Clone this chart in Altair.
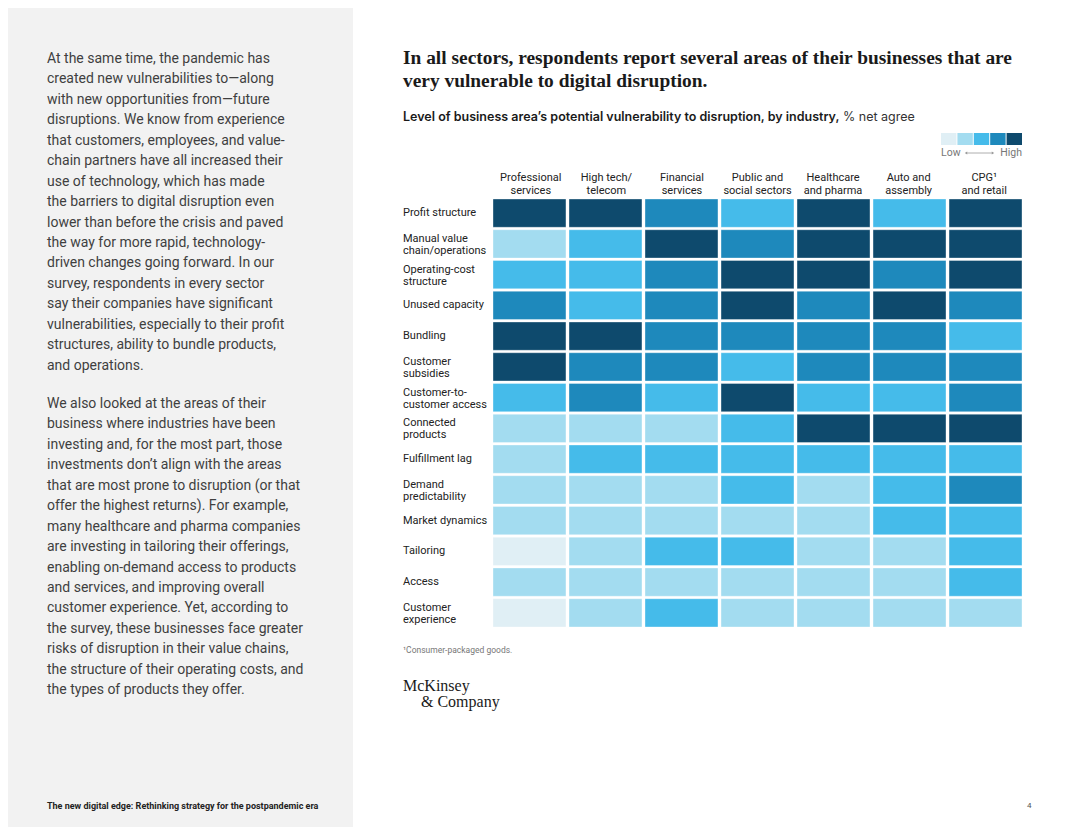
import altair as alt
import pandas as pd

# ---------------- data ----------------
industries = ["Professional services", "High tech/telecom", "Financial services",
              "Public and social sectors", "Healthcare and pharma", "Auto and assembly",
              "CPG and retail"]
industry_labels = [["Professional", "services"], ["High tech/", "telecom"], ["Financial", "services"],
                   ["Public and", "social sectors"], ["Healthcare", "and pharma"], ["Auto and", "assembly"],
                   ["CPG\u00b9", "and retail"]]

areas = ["Profit structure", "Manual value chain/operations", "Operating-cost structure",
         "Unused capacity", "Bundling", "Customer subsidies", "Customer-to-customer access",
         "Connected products", "Fulfillment lag", "Demand predictability", "Market dynamics",
         "Tailoring", "Access", "Customer experience"]
area_labels = [["Profit structure"], ["Manual value", "chain/operations"], ["Operating-cost", "structure"],
               ["Unused capacity"], ["Bundling"], ["Customer", "subsidies"], ["Customer-to-", "customer access"],
               ["Connected", "products"], ["Fulfillment lag"], ["Demand", "predictability"], ["Market dynamics"],
               ["Tailoring"], ["Access"], ["Customer", "experience"]]

# vulnerability level (1 = low ... 5 = high), one list per industry, in the order of `areas`
professional_services = [5, 2, 3, 4, 5, 5, 3, 2, 2, 2, 2, 1, 2, 1]
high_tech_telecom     = [5, 3, 3, 3, 5, 4, 4, 2, 3, 2, 2, 2, 2, 2]
financial_services    = [4, 5, 4, 4, 4, 4, 3, 2, 3, 2, 2, 3, 2, 3]
public_social         = [3, 4, 5, 5, 4, 3, 5, 3, 3, 3, 2, 3, 2, 2]
healthcare_pharma     = [5, 5, 5, 4, 4, 4, 3, 5, 3, 2, 2, 2, 2, 2]
auto_assembly         = [3, 5, 4, 5, 4, 4, 3, 5, 3, 3, 3, 2, 2, 2]
cpg_retail            = [5, 5, 5, 4, 3, 4, 4, 5, 3, 4, 3, 3, 3, 2]

levels = [1, 2, 3, 4, 5]
level_colors = ["#e0eff5", "#a3dcf0", "#45bbea", "#1e89bc", "#0e4a6d"]

paragraph1 = [
    "At the same time, the pandemic has",
    "created new vulnerabilities to\u2014along",
    "with new opportunities from\u2014future",
    "disruptions. We know from experience",
    "that customers, employees, and value-",
    "chain partners have all increased their",
    "use of technology, which has made",
    "the barriers to digital disruption even",
    "lower than before the crisis and paved",
    "the way for more rapid, technology-",
    "driven changes going forward. In our",
    "survey, respondents in every sector",
    "say their companies have significant",
    "vulnerabilities, especially to their profit",
    "structures, ability to bundle products,",
    "and operations.",
]
paragraph2 = [
    "We also looked at the areas of their",
    "business where industries have been",
    "investing and, for the most part, those",
    "investments don\u2019t align with the areas",
    "that are most prone to disruption (or that",
    "offer the highest returns). For example,",
    "many healthcare and pharma companies",
    "are investing in tailoring their offerings,",
    "enabling on-demand access to products",
    "and services, and improving overall",
    "customer experience. Yet, according to",
    "the survey, these businesses face greater",
    "risks of disruption in their value chains,",
    "the structure of their operating costs, and",
    "the types of products they offer.",
]
title_lines = ["In all sectors, respondents report several areas of their businesses that are",
               "very vulnerable to digital disruption."]
subtitle_bold = "Level of business area\u2019s potential vulnerability to disruption, by industry,"
subtitle_regular = "% net agree"
footnote = "\u00b9Consumer-packaged goods."
footer = "The new digital edge: Rethinking strategy for the postpandemic era"
page_number = "4"

# ---------------- tables ----------------
series = [professional_services, high_tech_telecom, financial_services, public_social,
          healthcare_pharma, auto_assembly, cpg_retail]
rows = []
for ind, vals in zip(industries, series):
    for area, v in zip(areas, vals):
        rows.append({"industry": ind, "area": area, "level": v})
cells = pd.DataFrame(rows)
col_df = pd.DataFrame({"industry": industries, "label": industry_labels})
row_df = pd.DataFrame({"area": areas, "label": area_labels,
                       "nlines": [len(l) for l in area_labels]})
legend_df = pd.DataFrame({"level": levels})
one = pd.DataFrame({"a": [0]})

FONT = "Roboto"
SERIF = "Liberation Serif"

xscale = alt.Scale(domain=industries, range=[485, 1014], paddingInner=0.04, paddingOuter=0)
yscale = alt.Scale(domain=areas, range=[191, 619], paddingInner=0.08, paddingOuter=0)
cscale = alt.Scale(domain=levels, range=level_colors)

panel = alt.Chart(one).mark_rect(color="#f2f2f2").encode(
    x=alt.value(0), x2=alt.value(345), y=alt.value(0), y2=alt.value(830))

para1 = alt.Chart(one).mark_text(text=paragraph1, font=FONT, fontSize=14, lineHeight=20.45,
                                 align="left", baseline="alphabetic", color="#3f3f3f").encode(
    x=alt.value(39), y=alt.value(55))
para2 = alt.Chart(one).mark_text(text=paragraph2, font=FONT, fontSize=14, lineHeight=20.45,
                                 align="left", baseline="alphabetic", color="#3f3f3f").encode(
    x=alt.value(39), y=alt.value(400))

title = alt.Chart(one).mark_text(text=title_lines, font=SERIF, fontSize=19.4, fontWeight="bold",
                                 lineHeight=23, align="left", baseline="alphabetic", color="#1a1a1a").encode(
    x=alt.value(395), y=alt.value(56))
sub1 = alt.Chart(one).mark_text(text=subtitle_bold, font="Inter", fontSize=12.5, fontWeight=600,
                                align="left", baseline="middle", color="#1a1a1a").encode(
    x=alt.value(395), y=alt.value(109))
sub2 = alt.Chart(one).mark_text(text=subtitle_regular, font="Inter", fontSize=12.5,
                                align="left", baseline="middle", color="#333333").encode(
    x=alt.value(835), y=alt.value(109))

heat = alt.Chart(cells).mark_rect(stroke="#ffffff", strokeOpacity=0.35, strokeWidth=1).encode(
    x=alt.X("industry:N", scale=xscale, axis=None),
    y=alt.Y("area:N", scale=yscale, axis=None),
    color=alt.Color("level:O", scale=cscale, legend=None),
)
col_labels = alt.Chart(col_df).mark_text(font=FONT, fontSize=11, lineHeight=13, align="center",
                                         baseline="middle", color="#222222").encode(
    x=alt.X("industry:N", scale=xscale, axis=None),
    y=alt.value(170),
    text="label",
)
row_labels_1 = alt.Chart(row_df).transform_filter("datum.nlines == 1").mark_text(
    font=FONT, fontSize=11, lineHeight=12, align="left", baseline="middle", color="#222222").encode(
    x=alt.value(395),
    y=alt.Y("area:N", scale=yscale, axis=None),
    text="label",
)
row_labels_2 = alt.Chart(row_df).transform_filter("datum.nlines == 2").mark_text(
    font=FONT, fontSize=11, lineHeight=12, dy=-5, align="left", baseline="middle", color="#222222").encode(
    x=alt.value(395),
    y=alt.Y("area:N", scale=yscale, axis=None),
    text="label",
)

legend_rects = alt.Chart(legend_df).mark_rect().encode(
    x=alt.X("level:O", scale=alt.Scale(domain=levels, range=[933, 1014], paddingInner=0.06, paddingOuter=0), axis=None),
    y=alt.value(125), y2=alt.value(137),
    color=alt.Color("level:O", scale=cscale, legend=None),
)
low_txt = alt.Chart(one).mark_text(text="Low", font=FONT, fontSize=10.5, align="left",
                                   baseline="middle", color="#777777").encode(x=alt.value(933), y=alt.value(145))
high_txt = alt.Chart(one).mark_text(text="High", font=FONT, fontSize=10.5, align="right",
                                    baseline="middle", color="#777777").encode(x=alt.value(1014), y=alt.value(145))
arrow_line = alt.Chart(one).mark_rule(color="#9a9a9a", strokeWidth=0.8).encode(
    x=alt.value(958), x2=alt.value(985), y=alt.value(145))
arrow_l = alt.Chart(one).mark_point(shape="triangle-left", filled=True, size=8, color="#9a9a9a", opacity=1).encode(
    x=alt.value(958), y=alt.value(145))
arrow_r = alt.Chart(one).mark_point(shape="triangle-right", filled=True, size=8, color="#9a9a9a", opacity=1).encode(
    x=alt.value(985), y=alt.value(145))

foot = alt.Chart(one).mark_text(text=footnote, font=FONT, fontSize=8.5, align="left",
                                baseline="middle", color="#777777").encode(x=alt.value(395), y=alt.value(642))
logo1 = alt.Chart(one).mark_text(text="McKinsey", font=SERIF, fontSize=16, align="left",
                                 baseline="middle", color="#1a1a1a").encode(x=alt.value(395), y=alt.value(678))
logo2 = alt.Chart(one).mark_text(text="& Company", font=SERIF, fontSize=16, align="left",
                                 baseline="middle", color="#1a1a1a").encode(x=alt.value(413), y=alt.value(694))
footer_txt = alt.Chart(one).mark_text(text=footer, font=FONT, fontSize=9, fontWeight="bold", align="left",
                                      baseline="middle", color="#222222").encode(x=alt.value(39), y=alt.value(798))
page_txt = alt.Chart(one).mark_text(text=page_number, font=FONT, fontSize=8, align="left",
                                    baseline="middle", color="#555555").encode(x=alt.value(1019), y=alt.value(798))

chart = alt.layer(
    panel, para1, para2, title, sub1, sub2, heat, col_labels, row_labels_1, row_labels_2,
    legend_rects, low_txt, high_txt, arrow_line, arrow_l, arrow_r,
    foot, logo1, logo2, footer_txt, page_txt,
).resolve_scale(x="independent").properties(
    width=1064, height=819, autosize=alt.AutoSizeParams(type="none"), padding=0, background="#ffffff",
).configure_view(stroke=None)

chart.save("out.html", embed_options={"renderer": "svg", "actions": False})
